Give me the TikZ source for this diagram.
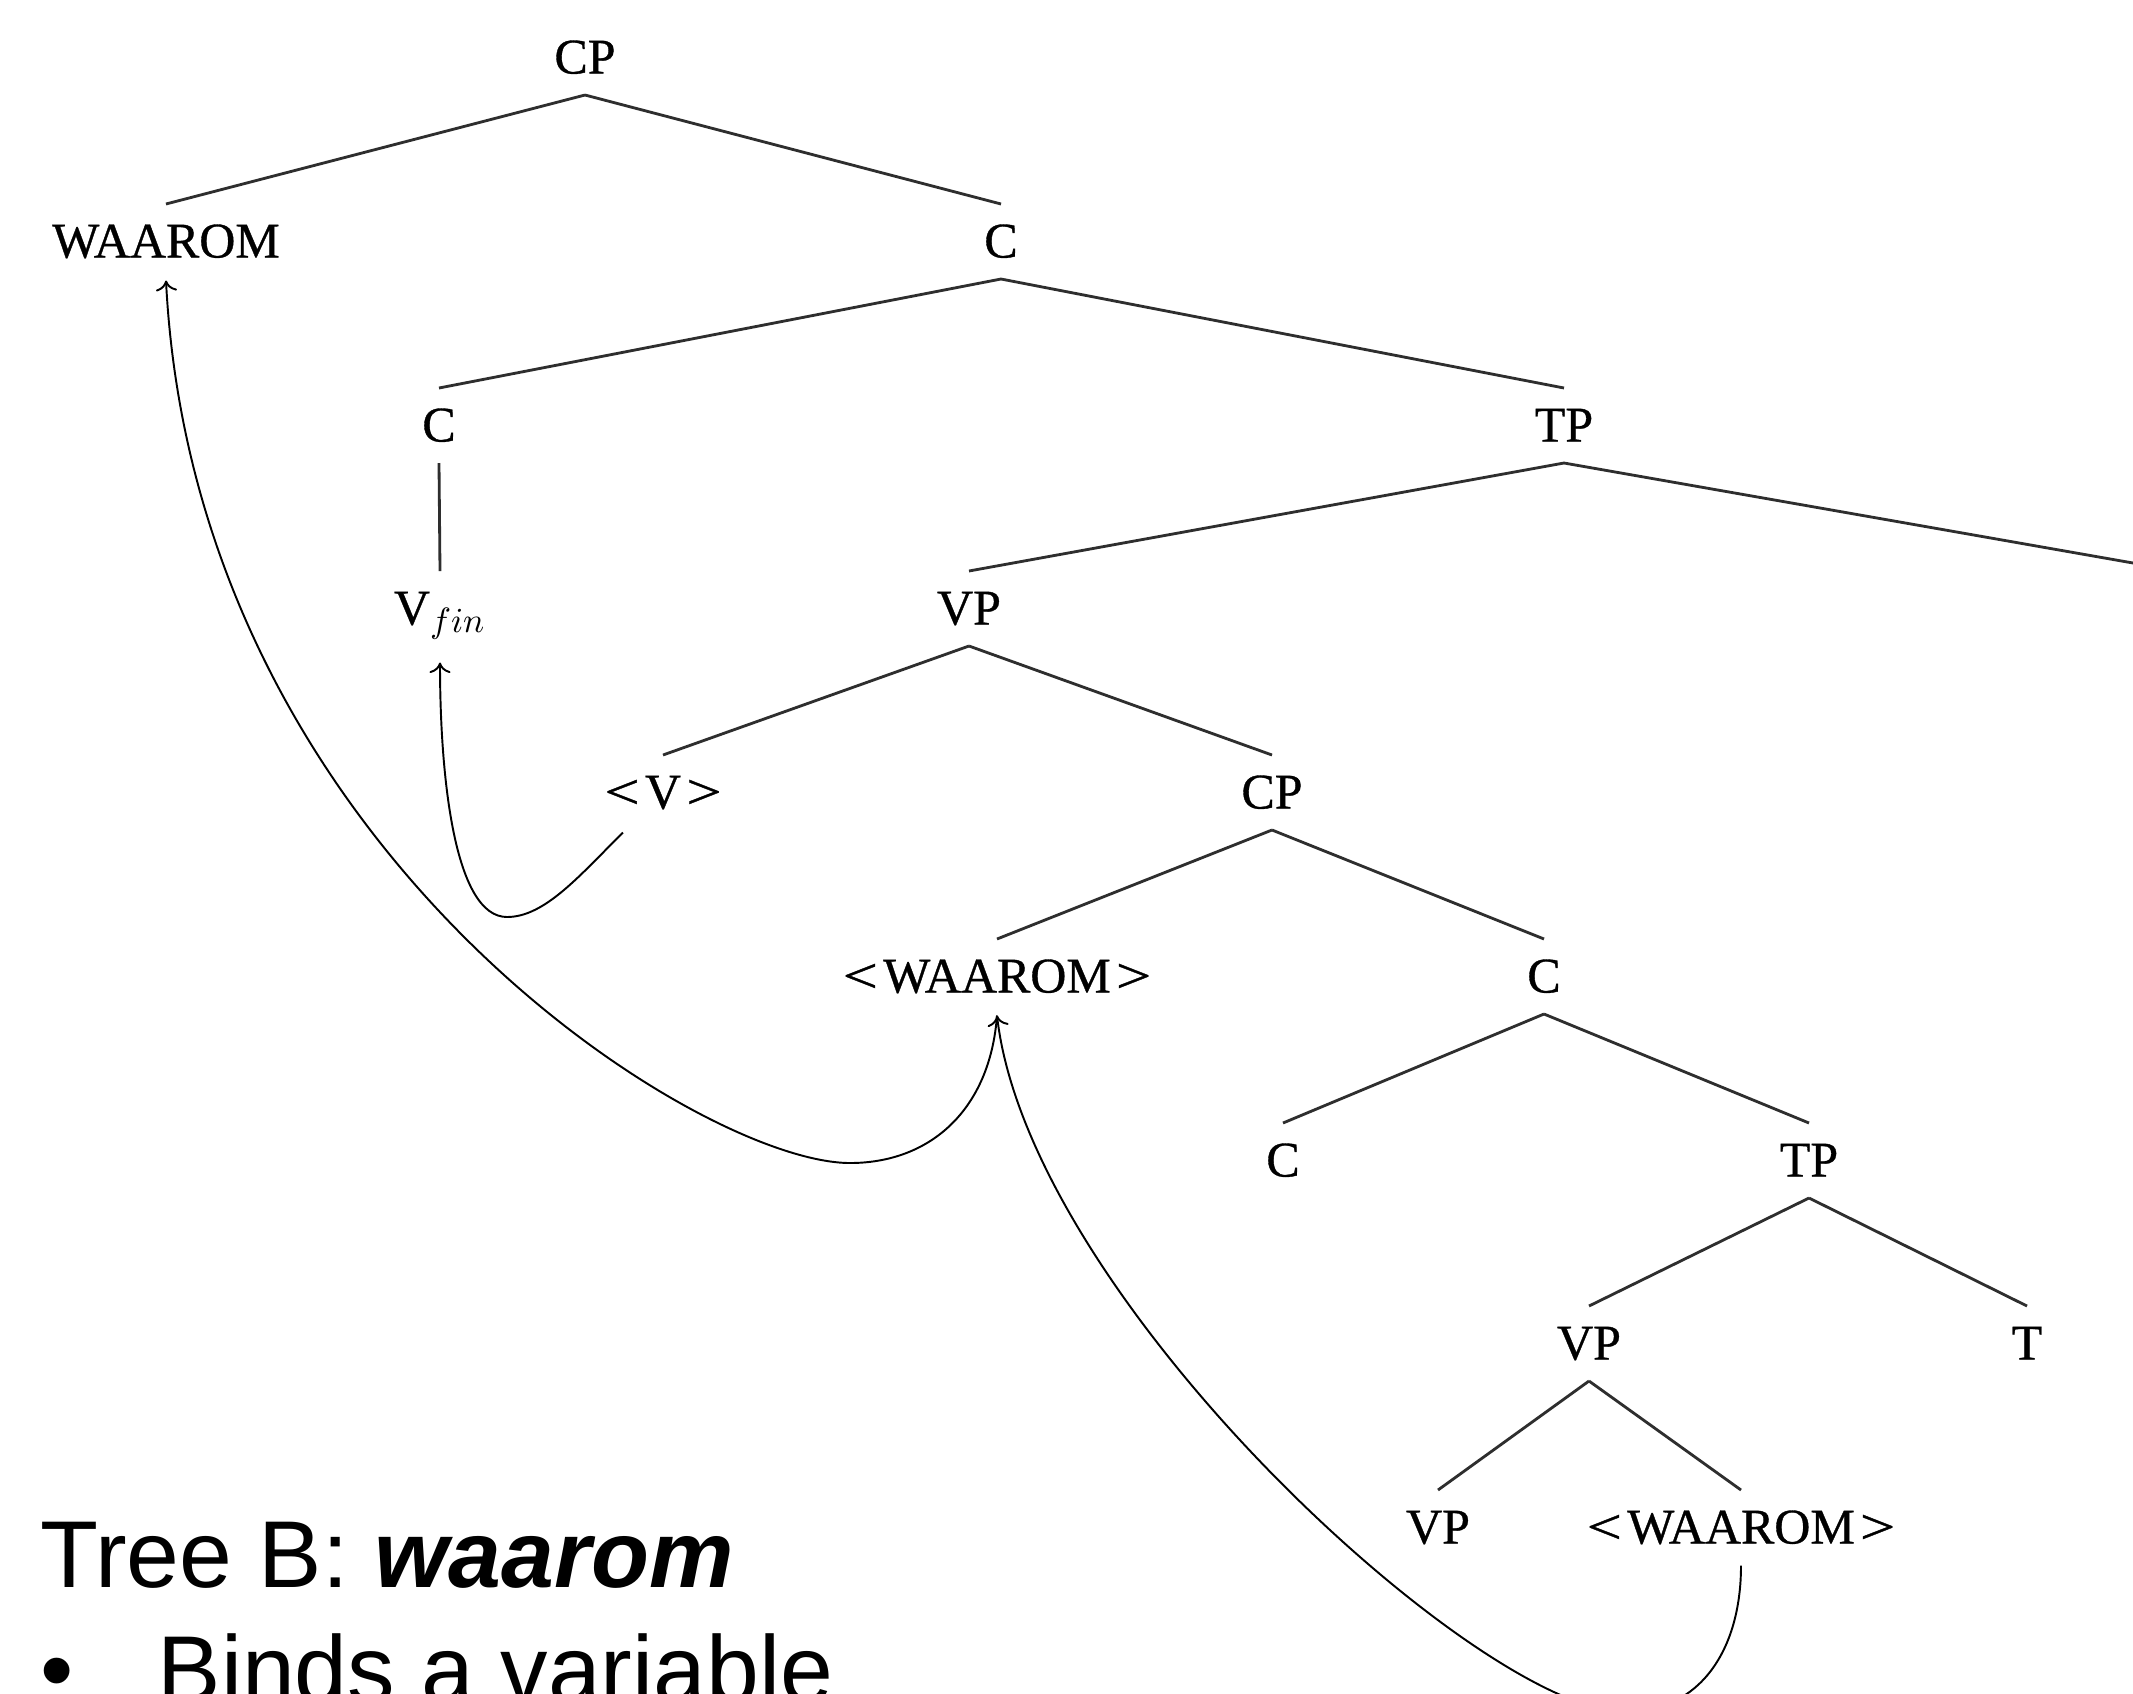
\documentclass[tikz,border=0pt]{standalone}
\usepackage{fontspec}
\setmainfont{Liberation Serif}
\newfontfamily\treefont[FakeBold=0.7]{Liberation Serif}
\newfontfamily\slidefont{Liberation Sans}
\usetikzlibrary{calc,arrows.meta}
\newcommand\trc[1]{\scalebox{1.25}[1]{<}\kern1.5pt #1\kern1.5pt\scalebox{1.25}[1]{>}}
\begin{document}
\begin{tikzpicture}[x=0.01cm,y=-0.01cm,
  tn/.style={anchor=base,inner sep=0pt,font=\treefont\fontsize{14.2}{17}\selectfont},
  edge/.style={draw=black!82,line width=0.8pt},
  mv/.style={draw=black,line width=0.55pt,-{To[length=3pt,width=6pt]}},
  slide/.style={anchor=base west,inner sep=0pt,font=\slidefont\fontsize{27}{32}\selectfont}]
\useasboundingbox (0,0) rectangle (2133,1693);
\clip (0,0) rectangle (2133,1693);
\fill[white] (0,0) rectangle (2133,1693);
% tree nodes
\node[tn] (cp1) at (585,73.5) {CP};
\node[tn] (waarom1) at (166,257.5) {WAAROM};
\node[tn] (c1) at (1001,257.5) {C};
\node[tn] (c2) at (439,441.5) {C};
\node[tn] (tp1) at (1564,441.5) {TP};
\node[tn] (vfin) at (440,624.5) {V$_{fin}$};
\node[tn] (vp1) at (969,624.5) {VP};
\node[tn] (v) at (663,808.5) {\trc{V}};
\node[tn] (cp2) at (1272,808.5) {CP};
\node[tn] (waarom2) at (997,992.5) {\trc{WAAROM}};
\node[tn] (c3) at (1544,992.5) {C};
\node[tn] (c4) at (1283,1176.5) {C};
\node[tn] (tp2) at (1809,1176.5) {TP};
\node[tn] (vp2) at (1589,1359.5) {VP};
\node[tn] (t) at (2027,1359.5) {T};
\node[tn] (vp3) at (1438,1543.5) {VP};
\node[tn] (waarom3) at (1741,1543.5) {\trc{WAAROM}};
\coordinate (tpR) at (2133,563);
% branches
\foreach \p/\c in {cp1/waarom1,cp1/c1,c1/c2,c1/tp1,c2/vfin,tp1/vp1,vp1/v,vp1/cp2,
  cp2/waarom2,cp2/c3,c3/c4,c3/tp2,tp2/vp2,tp2/t,vp2/vp3,vp2/waarom3}
  \draw[edge] ($(\p.base)+(0,21.5)$) -- ($(\c.base)+(0,-53.5)$);
\draw[edge] ($(tp1.base)+(0,21.5)$) -- (tpR);
% movement arrows
\draw[mv] ($(v.base)+(-40,24)$) .. controls (580,875) and (545,917) .. (507,917)
  .. controls (455,917) and (440,780) .. ($(vfin.base)+(0,38)$);
\draw[mv] ($(waarom2.base)+(0,23)$) .. controls (990,1110) and (930,1163) .. (850,1163)
  .. controls (700,1163) and (195,850) .. ($(waarom1.base)+(0,23)$);
\draw[mv] ($(waarom3.base)+(0,22)$) .. controls (1741,1650) and (1700,1712) .. (1625,1712)
  .. controls (1480,1712) and (1030,1300) .. ($(waarom2.base)+(0,23)$);
% slide text
\node[slide] (title) at (40,1587) {Tree B: \textbf{\textit{waarom}}};
\node[slide] (bullet) at (40,1702) {•};
\node[slide] (item) at (157,1702) {Binds a variable};
\end{tikzpicture}
\end{document}
